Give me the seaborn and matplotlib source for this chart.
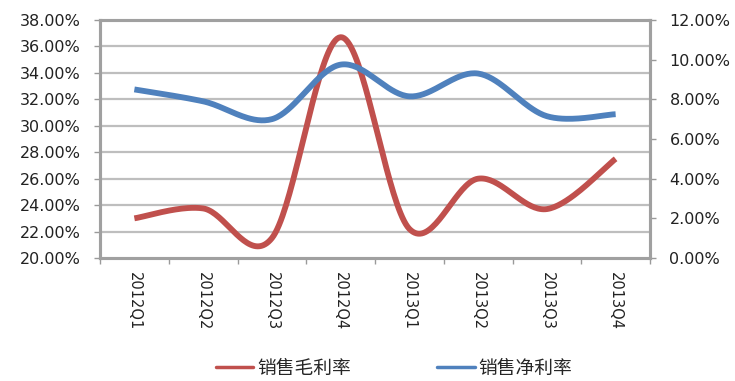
import numpy as np
import pandas as pd
import matplotlib
matplotlib.use("Agg")
import matplotlib.pyplot as plt
import seaborn as sns
from matplotlib.lines import Line2D

# Quarterly margins (percent)
quarters = ["2012Q1", "2012Q2", "2012Q3", "2012Q4",
            "2013Q1", "2013Q2", "2013Q3", "2013Q4"]
gross_margin = [23.0, 23.75, 21.5, 36.7, 22.2, 26.0, 23.7, 27.5]   # 销售毛利率, left axis
net_margin = [8.5, 7.9, 7.0, 9.75, 8.15, 9.3, 7.15, 7.25]          # 销售净利率, right axis

left_ticks = [20, 22, 24, 26, 28, 30, 32, 34, 36, 38]
right_ticks = [0, 2, 4, 6, 8, 10, 12]

RED = "#C0504D"
BLUE = "#4F81BD"


def smooth(values, steps=40):
    """Bezier smoothing through every point (Excel-style smoothed line)."""
    x = np.arange(len(values), dtype=float)
    y = np.asarray(values, dtype=float)
    px = np.concatenate([[x[0]], x, [x[-1]]])
    py = np.concatenate([[y[0]], y, [y[-1]]])
    xs, ys = [], []
    t = np.linspace(0, 1, steps)
    for i in range(len(values) - 1):
        p0x, p0y = px[i + 1], py[i + 1]
        p3x, p3y = px[i + 2], py[i + 2]
        c1x = p0x + (px[i + 2] - px[i]) / 6
        c1y = p0y + (py[i + 2] - py[i]) / 6
        c2x = p3x - (px[i + 3] - px[i + 1]) / 6
        c2y = p3y - (py[i + 3] - py[i + 1]) / 6
        b0 = (1 - t) ** 3
        b1 = 3 * (1 - t) ** 2 * t
        b2 = 3 * (1 - t) * t ** 2
        b3 = t ** 3
        xs.append(b0 * p0x + b1 * c1x + b2 * c2x + b3 * p3x)
        ys.append(b0 * p0y + b1 * c1y + b2 * c2y + b3 * p3y)
    return pd.DataFrame({"x": np.concatenate(xs), "y": np.concatenate(ys)})


sns.set_theme(style="white")
plt.rcParams["font.family"] = ["DejaVu Sans", "Noto Sans CJK SC"]

fig = plt.figure(figsize=(7.35, 3.81), dpi=100)
ax = fig.add_axes([100 / 735, 1 - 258 / 381, 550 / 735, 238 / 381])
ax2 = ax.twinx()

# horizontal gridlines (left scale)
for v in left_ticks[1:-1]:
    ax.axhline(v, color="#BEBEBE", lw=1.6, zorder=0)

sns.lineplot(data=smooth(gross_margin), x="x", y="y", ax=ax, sort=False,
             estimator=None, color=RED, lw=4.2, solid_capstyle="butt", zorder=3)
sns.lineplot(data=smooth(net_margin), x="x", y="y", ax=ax2, sort=False,
             estimator=None, color=BLUE, lw=4.2, solid_capstyle="butt", zorder=3)

ax.set_xlim(-0.5, len(quarters) - 0.5)
ax.set_ylim(20, 38)
ax2.set_ylim(0, 12)
ax.set_xlabel("")
ax.set_ylabel("")
ax2.set_ylabel("")

ax.set_yticks(left_ticks)
ax.set_yticklabels([f"{v:.2f}%" for v in left_ticks])
ax2.set_yticks(right_ticks)
ax2.set_yticklabels([f"{v:.2f}%" for v in right_ticks])

ax.set_xticks(range(len(quarters)))
ax.set_xticklabels(quarters, rotation=-90, fontsize=10.5, color="#222222")
ax.set_xticks(np.arange(-0.5, len(quarters), 1.0), minor=True)
ax.tick_params(axis="x", which="major", length=0, pad=10)
ax.tick_params(axis="x", which="minor", length=4, width=1, color="#9A9A9A",
               bottom=True)

ax.tick_params(axis="y", which="major", left=True, length=4, width=1,
               color="#9A9A9A", labelsize=11.5, labelcolor="#222222", pad=10)
ax2.tick_params(axis="y", which="major", right=True, length=4, width=1,
                color="#9A9A9A", labelsize=11.5, labelcolor="#222222", pad=10)

for a in (ax, ax2):
    for s in a.spines.values():
        s.set_color("#A0A0A0")
        s.set_linewidth(2.2)

handles = [Line2D([], [], color=RED, lw=2.5), Line2D([], [], color=BLUE, lw=2.5)]
fig.legend(handles, ["销售毛利率", "销售净利率"], loc="center",
           bbox_to_anchor=(0.536, 0.034), ncol=2, frameon=False,
           prop={"family": ["Noto Sans CJK SC"], "size": 13.5},
           handlelength=2.0, handletextpad=0.2, columnspacing=4.6)

fig.savefig("out.png", dpi=100)
